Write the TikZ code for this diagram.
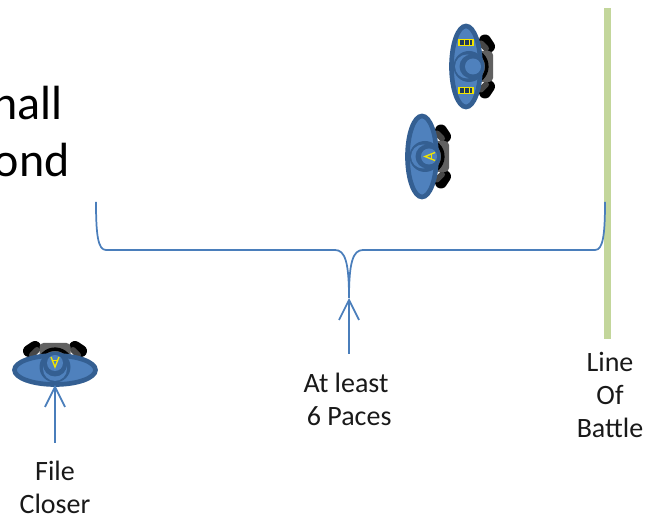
\documentclass[tikz,border=0pt]{standalone}
\usepackage{fontspec}
\setmainfont{Carlito}
\usetikzlibrary{arrows.meta}
\definecolor{sfill}{HTML}{4F81BD}
\definecolor{sdark}{HTML}{345F92}
\definecolor{lineblue}{HTML}{4A7EBB}
\definecolor{battle}{HTML}{C3D69B}
\definecolor{gunyellow}{HTML}{F2E500}
\tikzset{
  x=0.75pt,y=0.75pt,
  lbl/.style={font=\fontsize{21}{24.8}\selectfont,align=center,inner sep=0pt,text=black!90},
  big/.style={font=\fontsize{36}{40}\selectfont,anchor=base east,inner sep=0pt,text=black},
  blueline/.style={draw=lineblue,line width=1.3pt},
  tipline/.style={blueline,-{Straight Barb[length=15pt,width=15pt,line width=1.3pt]}},
  soldierbody/.pic={
    \draw[black,line width=9pt,line cap=round] (-26,19)--(-20,23);
    \draw[black,line width=9pt,line cap=round] (26,19)--(20,23);
    \draw[black!72,line width=4.5pt,line cap=round] (-23,15)--(-18,20);
    \draw[black!72,line width=4.5pt,line cap=round] (23,15)--(18,20);
    \fill[black!62,rounded corners=3pt] (-15.5,8) rectangle (15.5,27);
    \draw[black,line width=2.6pt] (15.5,10) arc[start angle=20,end angle=160,radius=16.5];
    \draw[sdark,line width=3.5pt,fill=sfill] (0,0) ellipse[x radius=40.5,y radius=14.5];
    \fill[sdark] (0,3) circle[radius=15.5];
    \fill[sfill] (0,1) circle[radius=12];
    \fill[sdark] (0,5.5) circle[radius=12];
    \fill[sfill] (0,7) circle[radius=8];
  },
  soldierA/.pic={
    \draw[gunyellow,line width=1pt] (-4,13)--(0,3)--(4,13);
    \draw[gunyellow,line width=1pt] (-2.7,9.5)--(2.7,9.5);
  },
  soldierbars/.pic={
    \fill[sdark!60!black] (-3,-7) rectangle (3,7);
    \draw[gunyellow,line width=.9pt] (-3,-7) rectangle (3,7);
    \draw[gunyellow,line width=.7pt] (-3,-2)--(3,-2) (-3,3)--(3,3);
  }
}
\begin{document}
\begin{tikzpicture}
\useasboundingbox (0,0) rectangle (656,517);
% text clipped by page
\node[big] (hall) at (63,397) {hall};
\node[big] (ond) at (70,340) {ond};
% line of battle
\fill[battle] (604,178) rectangle (611,509);
% soldiers
\pic[rotate=-90] at (466,450.5) {soldierbody};
\pic[rotate=-90] at (466,474.5) {soldierbars};
\pic[rotate=-90] at (466,426.5) {soldierbars};
\pic[rotate=-90] at (422,360.5) {soldierbody};
\pic[rotate=-90] at (422,360.5) {soldierA};
\pic at (55,147) {soldierbody};
\pic at (55,147) {soldierA};
% brace
\coordinate (bl) at (96,315);
\coordinate (br) at (605,315);
\coordinate (bm) at (349,219);
\draw[blueline] (bl) .. controls (96,282) and (98,267) .. (106,267) -- (335,267)
  .. controls (345,267) and (349,255) .. (bm)
  .. controls (349,255) and (353,267) .. (363,267) -- (595,267)
  .. controls (603,267) and (605,282) .. (br);
% labels
\node[lbl] (atleast) at (346,118) {At least\\ \ 6 Paces};
\node[lbl] (line) at (610,122) {Line\\Of\\Battle};
\node[lbl] (closer) at (55,29.5) {File\\Closer};
\coordinate (a1) at (349,163);
\coordinate (b1) at (55,74);
\coordinate (b2) at (55,132);
\draw[tipline] (a1) -- (bm);
\draw[tipline] (b1) -- (b2);
\end{tikzpicture}
\end{document}
